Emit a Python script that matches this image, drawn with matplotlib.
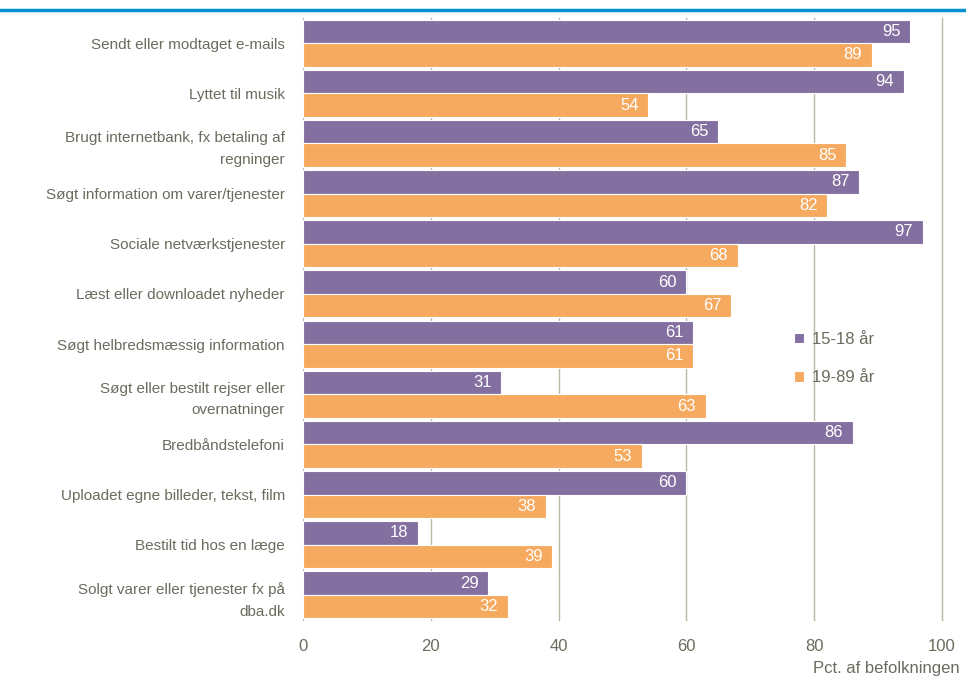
import matplotlib.pyplot as plt
import numpy as np

categories = ['Sendt eller modtaget e-mails', 'Lyttet til musik',
              'Brugt internetbank, fx betaling af\nregninger',
              'Søgt information om varer/tjenester', 'Sociale netværkstjenester',
              'Læst eller downloadet nyheder', 'Søgt helbredsmæssig information',
              'Søgt eller bestilt rejser eller\novernatninger', 'Bredbåndstelefoni',
              'Uploadet egne billeder, tekst, film', 'Bestilt tid hos en læge',
              'Solgt varer eller tjenester fx på\ndba.dk']
young = [95, 94, 65, 87, 97, 60, 61, 31, 86, 60, 18, 29]
adult = [89, 54, 85, 82, 68, 67, 61, 63, 53, 38, 39, 32]
series_names = ['15-18 år', '19-89 år']

plt.rcParams['font.family'] = ['Liberation Sans', 'DejaVu Sans']

purple = '#8470a0'
orange = '#f6aa60'
text_col = '#6b6b5e'
grid_col = '#b8b8a8'

fig = plt.figure(figsize=(9.66, 6.77), dpi=100)
ax = fig.add_axes([0.3137, 0.0842, 0.6615, 0.8892])

# top blue rule
fig.add_artist(plt.Line2D([0, 1], [0.985, 0.985], color='#0090d0', lw=2.5,
                          transform=fig.transFigure))

n = len(categories)
y = np.arange(n)
h = 0.47
b1 = ax.barh(y - h / 2, young, height=h, color=purple, edgecolor='white', lw=0.8,
             label=series_names[0], zorder=3)
b2 = ax.barh(y + h / 2, adult, height=h, color=orange, edgecolor='white', lw=0.8,
             label=series_names[1], zorder=3)

for bars, vals in [(b1, young), (b2, adult)]:
    for bar, v in zip(bars, vals):
        ax.text(v - 1.5, bar.get_y() + bar.get_height() / 2, str(v), color='white',
                ha='right', va='center', fontsize=12, zorder=4)

ax.set_xlim(0, 100)
ax.set_ylim(n - 0.5, -0.5)
ax.set_xticks([0, 20, 40, 60, 80, 100])
ax.set_yticks(y)
ax.set_yticklabels(categories, fontsize=11, color=text_col, linespacing=1.7)
ax.tick_params(axis='y', length=0, pad=13)
ax.tick_params(axis='x', length=0, labelsize=12, labelcolor=text_col, pad=14)
for xv in [20, 40, 60, 80, 100]:
    ax.axvline(xv, color=grid_col, lw=1, zorder=0, clip_on=False)
for s in ['top', 'right', 'bottom']:
    ax.spines[s].set_visible(False)
ax.spines['left'].set_color(grid_col)

ax.text(1.028, -0.08, 'Pct. af befolkningen', transform=ax.transAxes, ha='right',
        va='center', fontsize=12, color=text_col)

leg = ax.legend(loc='center left', bbox_to_anchor=(0.745, 0.434), frameon=False,
                fontsize=12, handlelength=0.6, handleheight=0.6, handletextpad=0.5,
                labelspacing=1.4, labelcolor=text_col)

fig.savefig('out.png', dpi=100)
